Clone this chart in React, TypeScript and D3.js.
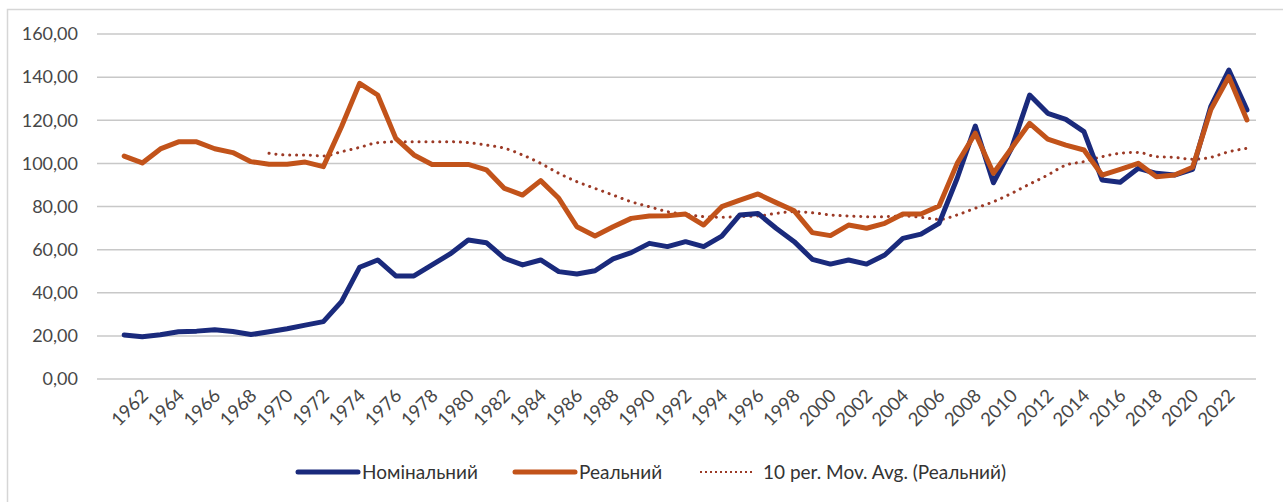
import React, { useEffect, useRef } from 'react';
import * as d3 from 'd3';

// years 1961..2023
const years = d3.range(1961, 2024);

const nominal = [
  20.4, 19.6, 20.5, 21.9, 22.2, 22.8, 22.0, 20.6, 21.9, 23.3,
  25.0, 26.6, 35.9, 51.8, 55.2, 47.8, 47.8, 52.9, 58.0, 64.5,
  63.2, 56.0, 52.9, 55.2, 49.8, 48.7, 50.2, 55.7, 58.6, 62.9,
  61.4, 63.7, 61.4, 66.3, 76.1, 76.8, 69.9, 63.7, 55.5, 53.3,
  55.2, 53.3, 57.5, 65.2, 67.2, 72.2, 93.1, 117.3, 91.0, 107.0,
  131.7, 123.2, 120.4, 114.7, 92.3, 91.2, 97.7, 95.4, 94.6, 97.2,
  126.3, 143.3, 124.8
];

const real = [
  103.4, 100.2, 106.7, 110.0, 110.0, 106.8, 105.0, 100.8, 99.6, 99.6,
  100.6, 98.5, 117.0, 137.1, 131.7, 111.6, 103.9, 99.5, 99.5, 99.5,
  97.0, 88.4, 85.3, 92.0, 83.8, 70.6, 66.3, 70.6, 74.5, 75.6,
  75.7, 76.5, 71.4, 79.9, 83.0, 85.8, 81.8, 78.0, 67.9, 66.5,
  71.4, 69.9, 72.2, 76.5, 76.5, 80.2, 100.0, 114.0, 95.4, 107.0,
  118.6, 111.2, 108.5, 106.2, 94.6, 97.2, 100.0, 93.8, 94.6, 98.2,
  124.8, 140.2, 120.1
];

// 10 per. moving average, 1969..2023
const maYears = d3.range(1969, 2024);
const movAvg = [
  104.7, 103.9, 103.9, 103.4, 105.4, 107.4, 109.6, 110.0, 110.0, 110.0,
  110.0, 109.6, 108.5, 107.0, 103.9, 100.0, 95.4, 91.5, 88.4, 85.3,
  82.2, 79.9, 77.6, 76.4, 75.3, 75.0, 75.3, 75.6, 76.8, 77.6,
  77.1, 76.1, 75.6, 75.3, 75.3, 75.6, 75.0, 74.0, 76.1, 79.2,
  82.2, 86.1, 90.4, 94.6, 99.2, 100.8, 103.1, 104.7, 105.1, 103.1,
  102.8, 101.9, 102.8, 105.4, 107.0
];

const yTicks = [0, 20, 40, 60, 80, 100, 120, 140, 160];
const labelYears = d3.range(1962, 2024, 2);

const legendItems = [
  { name: 'Номінальний', color: '#1a2a7c', dash: null },
  { name: 'Реальний', color: '#c2531a', dash: null },
  { name: '10 per. Mov. Avg. (Реальний)', color: '#9c3a26', dash: '1.5 4.5' }
];

const W = 1283, H = 502;
const FONT = 'Lato, "Open Sans", sans-serif';

export default function App() {
  const ref = useRef<SVGSVGElement | null>(null);

  useEffect(() => {
    const svg = d3.select(ref.current);
    svg.selectAll('*').remove();

    const x = d3.scaleLinear().domain([1959.5, 2023.5]).range([97, 1256]);
    const y = d3.scaleLinear().domain([0, 160]).range([379, 34]);

    svg.append('rect')
      .attr('width', W).attr('height', H).attr('fill', '#fff');

    // chart frame (partly cropped in the original)
    svg.append('rect')
      .attr('x', 7.5).attr('y', 9.5)
      .attr('width', W + 20).attr('height', H + 20)
      .attr('fill', 'none').attr('stroke', '#d6d6d6').attr('stroke-width', 1.5);

    // gridlines
    svg.append('g')
      .selectAll('line')
      .data(yTicks)
      .enter()
      .append('line')
      .attr('x1', 97).attr('x2', 1256)
      .attr('y1', d => y(d)).attr('y2', d => y(d))
      .attr('stroke', '#c8c8c8').attr('stroke-width', 1.5);

    // y labels
    const fmt = d3.format('.2f');
    svg.append('g')
      .selectAll('text')
      .data(yTicks)
      .enter()
      .append('text')
      .text(d => fmt(d).replace('.', ','))
      .attr('x', 78)
      .attr('y', d => y(d))
      .attr('dy', '0.35em')
      .attr('text-anchor', 'end')
      .attr('font-family', FONT)
      .attr('font-size', 18)
      .attr('fill', '#474747');

    // x labels
    svg.append('g')
      .selectAll('text')
      .data(labelYears)
      .enter()
      .append('text')
      .text(d => d)
      .attr('transform', d => `translate(${x(d) + 7},${397}) rotate(-45)`)
      .attr('text-anchor', 'end')
      .attr('font-family', FONT)
      .attr('font-size', 18.5)
      .attr('fill', '#474747');

    const line = d3.line<number>()
      .x((d, i) => x(years[i]))
      .y(d => y(d));

    const maLine = d3.line<number>()
      .x((d, i) => x(maYears[i]))
      .y(d => y(d))
      .curve(d3.curveMonotoneX);

    svg.append('path')
      .datum(movAvg)
      .attr('d', maLine)
      .attr('fill', 'none')
      .attr('stroke', legendItems[2].color)
      .attr('stroke-width', 3)
      .attr('stroke-linecap', 'round')
      .attr('stroke-dasharray', '0.1 6.8');

    svg.append('path')
      .datum(nominal)
      .attr('d', line)
      .attr('fill', 'none')
      .attr('stroke', legendItems[0].color)
      .attr('stroke-width', 5)
      .attr('stroke-linejoin', 'round')
      .attr('stroke-linecap', 'round');

    svg.append('path')
      .datum(real)
      .attr('d', line)
      .attr('fill', 'none')
      .attr('stroke', legendItems[1].color)
      .attr('stroke-width', 5)
      .attr('stroke-linejoin', 'round')
      .attr('stroke-linecap', 'round');

    // legend
    const legendX = [298, 515, 700];
    const legendW = [60, 60, 53];
    const lg = svg.append('g')
      .selectAll('g')
      .data(legendItems)
      .enter()
      .append('g')
      .attr('transform', (d, i) => `translate(${legendX[i]},472)`);

    lg.append('line')
      .attr('x1', 0)
      .attr('x2', (d, i) => legendW[i])
      .attr('stroke', d => d.color)
      .attr('stroke-width', d => d.dash ? 2 : 5)
      .attr('stroke-linecap', d => d.dash ? 'butt' : 'round')
      .attr('stroke-dasharray', d => d.dash ? '2 3' : null);

    lg.append('text')
      .text(d => d.name)
      .attr('x', (d, i) => legendW[i] + (i === 2 ? 10 : 4))
      .attr('dy', '0.35em')
      .attr('font-family', FONT)
      .attr('font-size', 19)
      .attr('fill', '#333');
  }, []);

  return (
    <svg ref={ref} width={W} height={H}
         style={{ position: 'absolute', left: 0, top: 0, display: 'block' }} />
  );
}
